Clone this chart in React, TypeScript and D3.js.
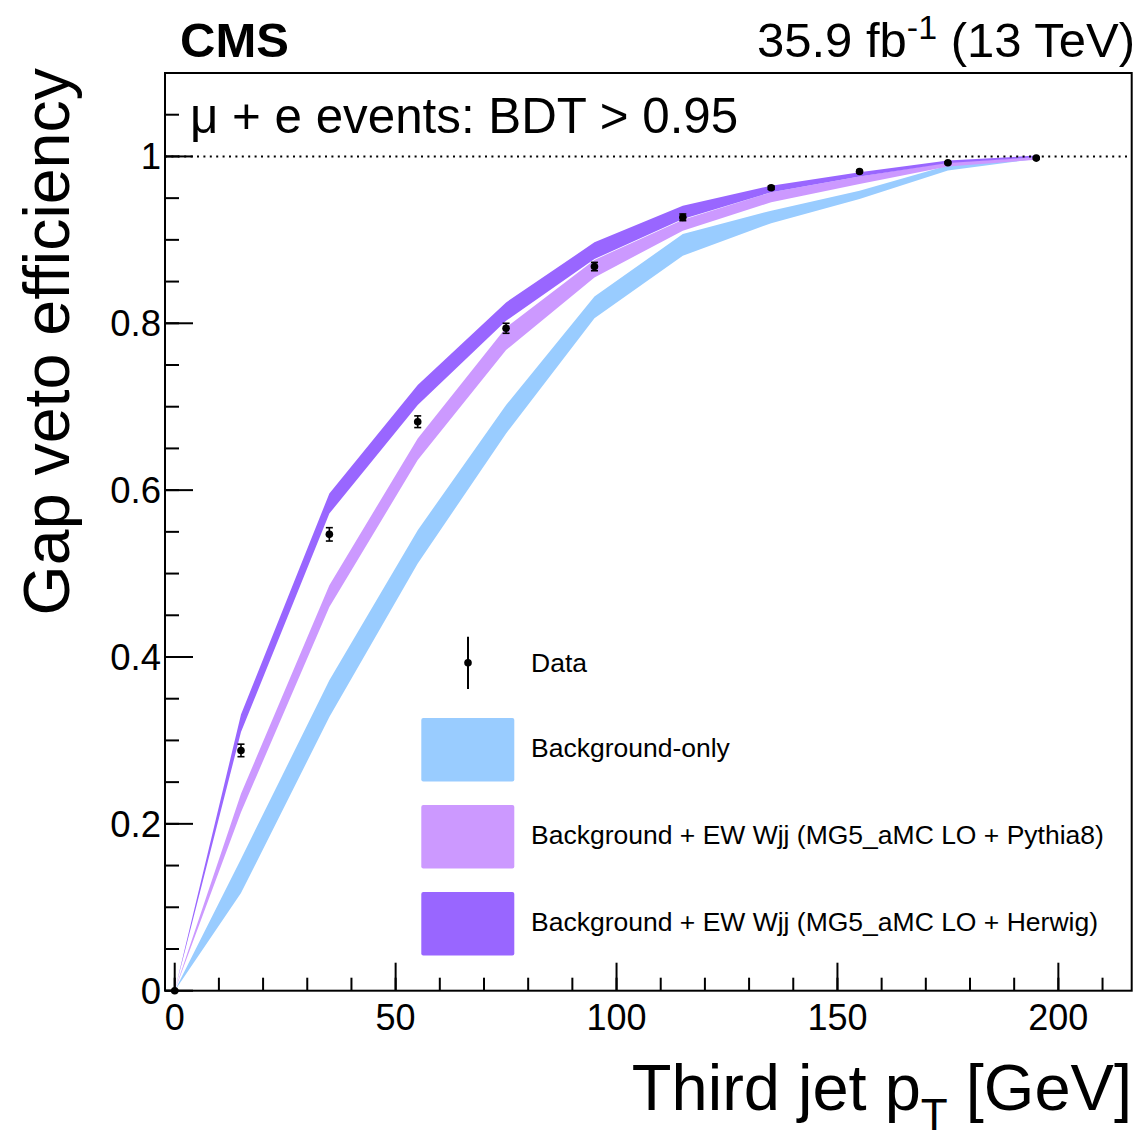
import React from "react";
import * as d3 from "d3";

const xBins = [0, 15, 35, 55, 75, 95, 115, 135, 155, 175, 195];
const dataEff = [0, 0.288, 0.547, 0.682, 0.794, 0.868, 0.927, 0.9625, 0.982, 0.9925, 0.998];
const dataErr = [0, 0.0075, 0.008, 0.007, 0.006, 0.005, 0.004, 0.002, 0.0015, 0.001, 0.001];

const bkgLo = [0, 0.117, 0.328, 0.512, 0.668, 0.806, 0.881, 0.92, 0.949, 0.983, 0.997];
const bkgHi = [0, 0.158, 0.372, 0.552, 0.702, 0.832, 0.907, 0.935, 0.959, 0.989, 1.0];

const pyLo = [0, 0.214, 0.46, 0.636, 0.768, 0.855, 0.911, 0.945, 0.967, 0.988, 0.996];
const pyHi = [0, 0.236, 0.486, 0.662, 0.795, 0.876, 0.924, 0.957, 0.976, 0.993, 0.999];

const hwLo = [0, 0.31, 0.572, 0.702, 0.803, 0.877, 0.925, 0.957, 0.976, 0.992, 0.999];
const hwHi = [0, 0.331, 0.596, 0.726, 0.825, 0.897, 0.941, 0.965, 0.981, 0.995, 1.001];

const legendLabels = [
  "Background-only",
  "Background + EW Wjj (MG5_aMC LO + Pythia8)",
  "Background + EW Wjj (MG5_aMC LO + Herwig)",
];
const bandColors = ["#99ccff", "#cc99ff", "#9966ff"];

const xMajor = [0, 50, 100, 150, 200];
const xMinor = d3.range(0, 211, 10);
const yMajor = [0, 0.2, 0.4, 0.6, 0.8, 1];
const yMinor = d3.range(0, 1.1001, 0.05);

const FONT = "'Liberation Sans', Arial, Helvetica, sans-serif";

export default function App() {
  const L = 165, R = 1131.7, T = 73, B = 990.7;
  const x = d3.scaleLinear().domain([-2.2, 216.6]).range([L, R]);
  const y = d3.scaleLinear().domain([0, 1.1]).range([B, T]);

  const bands = [
    [bkgLo, bkgHi],
    [pyLo, pyHi],
    [hwLo, hwHi],
  ];
  const idx = xBins.map((_, i) => i);
  const bandPaths = bands.map(([lo, hi]) =>
    d3
      .area<number>()
      .x((i) => x(xBins[i]))
      .y0((i) => y(lo[i]))
      .y1((i) => y(hi[i]))(idx)
  );

  const legendRowsY = [747, 834, 921];

  return (
    <svg
      width={1140}
      height={1139}
      style={{ position: "absolute", left: 0, top: 0, background: "#fff" }}
      fontFamily={FONT}
    >
      <rect x={0} y={0} width={1140} height={1139} fill="#fff" />
      {bandPaths.map((p, i) => (
        <path key={i} d={p || ""} fill={bandColors[i]} stroke="none" />
      ))}
      <line
        x1={L}
        x2={R}
        y1={y(1)}
        y2={y(1)}
        stroke="#000"
        strokeWidth={2}
        strokeDasharray="2,4.4"
      />
      {xBins.map((xv, i) => {
        const cx = x(xv);
        const cy = y(dataEff[i]);
        const e = dataErr[i];
        return (
          <g key={i}>
            {e > 0 && (
              <g stroke="#000" strokeWidth={1.6}>
                <line x1={cx} x2={cx} y1={y(dataEff[i] - e)} y2={y(dataEff[i] + e)} />
                <line x1={cx - 3.5} x2={cx + 3.5} y1={y(dataEff[i] - e)} y2={y(dataEff[i] - e)} />
                <line x1={cx - 3.5} x2={cx + 3.5} y1={y(dataEff[i] + e)} y2={y(dataEff[i] + e)} />
              </g>
            )}
            <circle cx={cx} cy={cy} r={3.8} fill="#000" />
          </g>
        );
      })}
      <rect x={L} y={T} width={R - L} height={B - T} fill="none" stroke="#000" strokeWidth={2} />
      {xMinor.map((v) => (
        <line key={"xm" + v} x1={x(v)} x2={x(v)} y1={B} y2={B - 13} stroke="#000" strokeWidth={2} />
      ))}
      {xMajor.map((v) => (
        <g key={"xM" + v}>
          <line x1={x(v)} x2={x(v)} y1={B} y2={B - 28} stroke="#000" strokeWidth={2} />
          <text x={x(v)} y={1030} fontSize={36} textAnchor="middle">
            {v}
          </text>
        </g>
      ))}
      {yMinor.map((v) => (
        <line key={"ym" + v} x1={L} x2={L + 14} y1={y(v)} y2={y(v)} stroke="#000" strokeWidth={2} />
      ))}
      {yMajor.map((v) => (
        <g key={"yM" + v}>
          <line x1={L} x2={L + 28} y1={y(v)} y2={y(v)} stroke="#000" strokeWidth={2} />
          <text x={161} y={y(v) + 13} fontSize={36.5} textAnchor="end">
            {v === 0 || v === 1 ? String(v) : v.toFixed(1)}
          </text>
        </g>
      ))}
      <text transform={`translate(69, 68) rotate(-90)`} fontSize={64.5} textAnchor="end">
        Gap veto efficiency
      </text>
      <text x={1132} y={1110} fontSize={65} textAnchor="end">
        Third jet p
        <tspan fontSize={44} dy={20}>T</tspan>
        <tspan dy={-20}> [GeV]</tspan>
      </text>
      <text x={180} y={57} fontSize={49} fontWeight="bold">
        CMS
      </text>
      <text x={1135} y={57} fontSize={49} textAnchor="end">
        35.9 fb
        <tspan fontSize={34} dy={-18}>-1</tspan>
        <tspan dy={18}> (13 TeV)</tspan>
      </text>
      <text x={190} y={133} fontSize={49.3}>
        μ + e events: BDT &gt; 0.95
      </text>
      <g>
        <line x1={468} x2={468} y1={636.7} y2={689} stroke="#000" strokeWidth={2} />
        <circle cx={468} cy={662.7} r={3.8} fill="#000" />
        <text x={531} y={662.7 + 9.5} fontSize={26.5}>
          Data
        </text>
        {legendLabels.map((lab, i) => (
          <g key={lab}>
            <rect
              x={421.3}
              y={legendRowsY[i] - 29}
              width={93}
              height={63.5}
              rx={2}
              fill={bandColors[i]}
            />
            <text x={531} y={legendRowsY[i] + 9.5} fontSize={26.5}>
              {lab}
            </text>
          </g>
        ))}
      </g>
    </svg>
  );
}
